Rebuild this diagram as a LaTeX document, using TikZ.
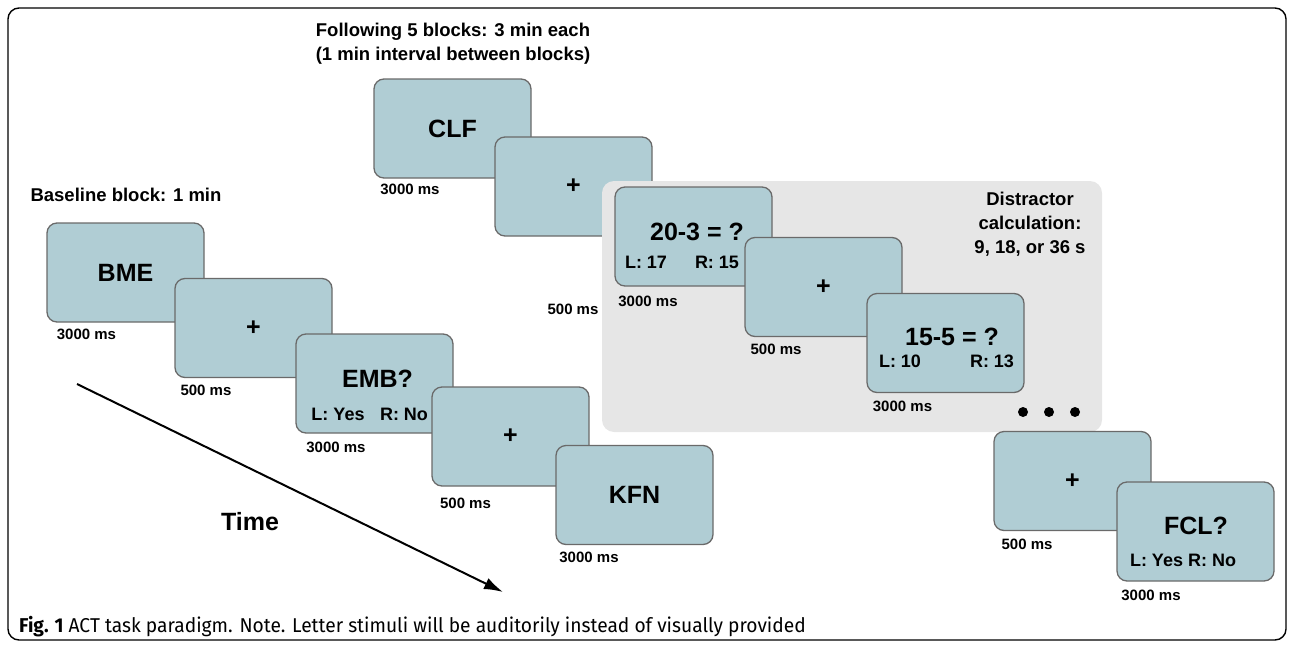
\documentclass[tikz,border=0pt]{standalone}
\usepackage{fontspec}
\setmainfont{Liberation Sans}
\newfontfamily\capfont{Fira Sans}
\usetikzlibrary{arrows.meta}
\definecolor{screenfill}{HTML}{B0CDD4}
\definecolor{screenline}{HTML}{6A6A6A}
\definecolor{distractfill}{HTML}{E6E6E6}
\tikzstyle{screen}=[draw=screenline, fill=screenfill, line width=1.3pt, rounded corners=10pt,
  minimum width=157pt, minimum height=99pt, inner sep=0pt, font=\fontsize{25}{30}\selectfont\bfseries]
\tikzstyle{stim}=[inner sep=0pt, font=\fontsize{25}{30}\selectfont\bfseries]
\tikzstyle{resp}=[inner sep=0pt, font=\fontsize{18}{22}\selectfont\bfseries]
\tikzstyle{dur}=[inner sep=0pt, font=\fontsize{15}{18}\selectfont\bfseries]
\tikzstyle{heading}=[inner sep=0pt, align=center, font=\fontsize{18.5}{24}\selectfont\bfseries]
\newcommand{\screen}{\node[screen]}
\newcommand{\dur}{\node[dur]}

\begin{document}
\begin{tikzpicture}[x=1pt, y=-1pt]
\useasboundingbox (0,0) rectangle (1292,645);
\draw[line width=1.4pt, rounded corners=11pt] (8,8) rectangle (1286,640);

% baseline block
\node[heading] (basehead) at (126,195) {Baseline block: 1 min};
\screen (bme) at (125.5,272.5) {BME};
\dur (bmedur) at (86.5,334.5) {3000 ms};
\screen (fixc) at (253.5,328) {+};
\dur (fixcdur) at (206,390) {500 ms};
\screen (emb) at (374.5,383.5) {};
\node[stim] (embq) at (377.5,379) {EMB?};
\node[resp] (embl) at (338,414.5) {L: Yes};
\node[resp] (embr) at (404,414.5) {R: No};
\dur (embdur) at (336,447) {3000 ms};
\screen (fixd) at (510.5,436.5) {+};
\dur (fixddur) at (465.5,503) {500 ms};
\screen (kfn) at (634.5,495) {KFN};
\dur (kfndur) at (589,557) {3000 ms};

% following blocks
\node[heading] (blockhead) at (453,44) {Following 5 blocks: 3 min each\\(1 min interval between blocks)};
\screen (clf) at (452.5,128.5) {CLF};
\dur (clfdur) at (410,189) {3000 ms};
\screen (fixa) at (573.5,186.5) {+};
\dur (fixadur) at (573,309) {500 ms};

% distractor
\fill[distractfill, rounded corners=12pt] (602,181) rectangle (1102,432);
\node[heading] (disthead) at (1030,224) {Distractor\\calculation:\\9, 18, or 36 s};
\screen (calca) at (693.5,236.5) {};
\node[stim] (calcaq) at (697,232) {20-3 = ?};
\node[resp] (calcal) at (646,262.5) {L: 17};
\node[resp] (calcar) at (717,262.5) {R: 15};
\dur (calcadur) at (648,301) {3000 ms};
\screen (fixb) at (823.5,287) {+};
\dur (fixbdur) at (776,349.5) {500 ms};
\screen (calcb) at (945.5,343) {};
\node[stim] (calcbq) at (952,337) {15-5 = ?};
\node[resp] (calcbl) at (900,361) {L: 10};
\node[resp] (calcbr) at (992,361) {R: 13};
\dur (calcbdur) at (902.5,406) {3000 ms};
\foreach \dx [count=\i] in {1023,1049,1075}
  \fill (\dx,412) circle (5pt);

% last trial
\screen (fixe) at (1072.5,481) {+};
\dur (fixedur) at (1027,544) {500 ms};
\screen (fcl) at (1195.5,531.5) {};
\node[stim] (fclq) at (1196,526) {FCL?};
\node[resp] (fcllr) at (1183,560) {L: Yes R: No};
\dur (fcldur) at (1151,595) {3000 ms};

% time axis
\coordinate (tstart) at (77,384);
\coordinate (tend) at (503,592);
\draw[line width=2pt, -{Latex[length=19pt,width=12pt]}] (tstart) -- (tend);
\node[stim] (timelab) at (250,522) {Time};

\node[anchor=west, inner sep=0pt, font=\fontsize{20}{24}\selectfont\capfont] (caption) at (19,627)
  {\scalebox{0.96}[1]{\textbf{Fig. 1} ACT task paradigm. Note. Letter stimuli will be auditorily instead of visually provided}};
\end{tikzpicture}
\end{document}
